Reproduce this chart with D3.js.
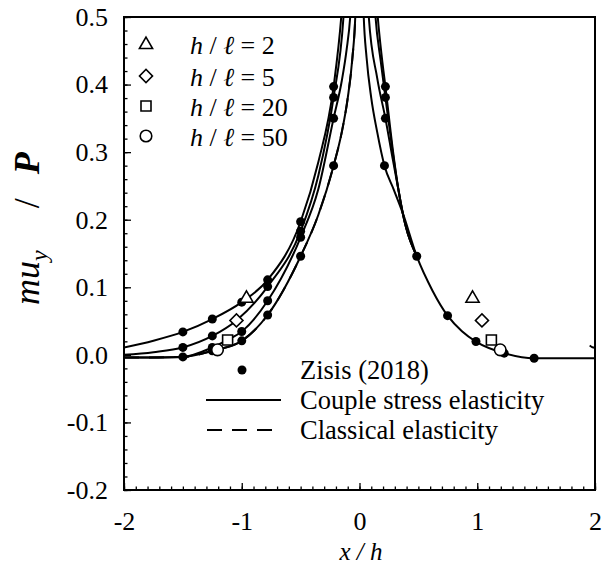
<!DOCTYPE html>
<html><head><meta charset="utf-8">
<script src="https://cdn.jsdelivr.net/npm/d3@7"></script>
<style>body{margin:0;background:#fff}</style>
</head><body>
<svg id="c" width="605" height="577"></svg>
<script>
// ---- data ----
const xTicks = [-2, -1, 0, 1, 2];
const yTicks = [-0.2, -0.1, 0.0, 0.1, 0.2, 0.3, 0.4, 0.5];
const ratios = ["2", "5", "20", "50"];
const legendLabels = ["Zisis (2018)", "Couple stress elasticity", "Classical elasticity"];

// couple stress curves, left branches (h/l = 2, 5, 20, 50)
const aLeftX = [-2, -1.75, -1.5, -1.25, -1.0, -0.78, -0.5, -0.35, -0.22, -0.155, -0.13];
const aLeftY = [0.011, 0.021, 0.034, 0.053, 0.078, 0.111, 0.197, 0.285, 0.397, 0.5, 0.56];
const bLeftX = [-2, -1.75, -1.5, -1.25, -1.045, -0.78, -0.5, -0.35, -0.22, -0.136, -0.115];
const bLeftY = [0.0, 0.004, 0.011, 0.028, 0.051, 0.101, 0.183, 0.265, 0.381, 0.5, 0.56];
const cLeftX = [-2, -1.5, -1.25, -1.12, -1.0, -0.78, -0.5, -0.35, -0.22, -0.15, -0.11, -0.079, -0.06];
const cLeftY = [-0.004, -0.003, 0.011, 0.022, 0.0345, 0.080, 0.174, 0.245, 0.350, 0.406, 0.451, 0.5, 0.56];
const dLeftX = [-2, -1.5, -1.25, -1.0, -0.78, -0.5, -0.35, -0.22, -0.15, -0.1, -0.06, -0.036, -0.025];
const dLeftY = [-0.004, -0.003, 0.006, 0.0207, 0.059, 0.146, 0.207, 0.28, 0.33, 0.38, 0.44, 0.5, 0.56];
// right branches
const aRightX = [0.13, 0.155, 0.19, 0.22, 0.282, 0.33, 0.367, 0.486];
const aRightY = [0.56, 0.5, 0.44, 0.397, 0.305, 0.245, 0.21, 0.146];
const bRightX = [0.115, 0.136, 0.18, 0.22, 0.282, 0.33, 0.367, 0.486];
const bRightY = [0.56, 0.5, 0.435, 0.381, 0.30, 0.245, 0.21, 0.146];
const cRightX = [0.06, 0.079, 0.15, 0.22, 0.282, 0.33, 0.367, 0.486];
const cRightY = [0.56, 0.5, 0.41, 0.35, 0.29, 0.245, 0.21, 0.146];
const dRightX = [0.025, 0.036, 0.06, 0.1, 0.15, 0.212, 0.29, 0.367, 0.486, 0.62, 0.748, 0.87, 0.989, 1.229, 1.483, 1.75, 2];
const dRightY = [0.56, 0.5, 0.44, 0.38, 0.33, 0.28, 0.245, 0.21, 0.146, 0.095, 0.058, 0.035, 0.0197, 0.0025, -0.005, -0.005, -0.005];
// short curve piece entering at the right border
const edgeX = [1.955, 1.975, 2.0];
const edgeY = [0.0138, 0.0115, 0.0105];

// Zisis (2018) points
const zisisX = [-1.5, -1.5, -1.5, -1.25, -1.25, -1.25, -1.25, -1.0, -1.0, -1.0, -0.78, -0.78, -0.78, -0.78,
                -0.5, -0.5, -0.5, -0.5, -0.22, -0.22, -0.22, -0.22,
                0.22, 0.22, 0.22, 0.212, 0.486, 0.748, 0.989, 1.229, 1.483];
const zisisY = [0.034, 0.011, -0.003, 0.053, 0.028, 0.011, 0.006, 0.078, 0.0345, 0.0207, 0.111, 0.101, 0.080, 0.059,
                0.197, 0.183, 0.174, 0.146, 0.397, 0.381, 0.350, 0.280,
                0.397, 0.381, 0.350, 0.280, 0.146, 0.058, 0.0197, 0.0025, -0.005];

// open identification markers (triangle, diamond, square, circle)
const markLeftX = [-0.96, -1.045, -1.12, -1.206];
const markRightX = [0.96, 1.04, 1.12, 1.195];
const markY = [0.085, 0.051, 0.022, 0.0074];

// ---- drawing ----
const L = 124, R = 595, T = 17, B = 490;
const svg = d3.select("#c");
const FONT = "Liberation Serif, Times New Roman, serif";
const FS = 26;
const x = d3.scaleLinear().domain([-2, 2]).range([L, R]);
const y = d3.scaleLinear().domain([-0.2, 0.5]).range([B, T]);

svg.append("defs").append("clipPath").attr("id", "clip")
  .append("rect").attr("x", L).attr("y", T).attr("width", R - L).attr("height", B - T);

const line = d3.line().x(d => x(d[0])).y(d => y(d[1])).curve(d3.curveMonotoneX);
const zip = (a, b) => a.map((v, i) => [v, b[i]]);

const g = svg.append("g").attr("clip-path", "url(#clip)");
const branches = [
  zip(aLeftX, aLeftY), zip(bLeftX, bLeftY), zip(cLeftX, cLeftY), zip(dLeftX, dLeftY),
  zip(aRightX, aRightY), zip(bRightX, bRightY), zip(cRightX, cRightY), zip(dRightX, dRightY),
  zip(edgeX, edgeY)
];
// classical elasticity (dashed) lies under the h/l = 50 curve
g.append("path").attr("d", line(zip(dLeftX, dLeftY))).attr("fill", "none")
  .attr("stroke", "#000").attr("stroke-width", 2).attr("stroke-dasharray", "15,10");
branches.forEach(b => {
  g.append("path").attr("d", line(b)).attr("fill", "none")
    .attr("stroke", "#000").attr("stroke-width", 2);
});

g.selectAll("circle.z").data(zip(zisisX, zisisY)).enter().append("circle")
  .attr("cx", d => x(d[0])).attr("cy", d => y(d[1])).attr("r", 4.5).attr("fill", "#000");

const symTypes = [d3.symbolTriangle, d3.symbolSquare, d3.symbolSquare, d3.symbolCircle];
const symSizes = [75, 85, 100, 105];
function sym(i) { return d3.symbol().type(symTypes[i]).size(symSizes[i])(); }
function symTransform(i, px, py) {
  if (i === 1) return `translate(${px},${py}) rotate(45)`;
  if (i === 0) return `translate(${px},${py + 1})`;
  return `translate(${px},${py})`;
}
markY.forEach((v, i) => {
  [markLeftX[i], markRightX[i]].forEach(mx => {
    svg.append("path").attr("d", sym(i))
      .attr("transform", symTransform(i, x(mx), y(v)))
      .attr("fill", "#fff").attr("stroke", "#000").attr("stroke-width", 1.6);
  });
});

svg.append("rect").attr("x", L).attr("y", T).attr("width", R - L).attr("height", B - T)
  .attr("fill", "none").attr("stroke", "#000").attr("stroke-width", 2);

const hyph = f => d => f(d).replace("\u2212", "-");
const xMinor = d3.range(-20, 21).map(i => i / 10);
const yMinor = d3.range(-10, 26).map(i => i / 50);
const ax = svg.append("g").attr("transform", `translate(0,${B})`)
  .call(d3.axisBottom(x).tickValues(xMinor).tickSize(-3.5).tickFormat(""));
const ax2 = svg.append("g").attr("transform", `translate(0,${B})`)
  .call(d3.axisBottom(x).tickValues(xTicks).tickSize(-7).tickPadding(22).tickFormat(hyph(d3.format("d"))));
const ay = svg.append("g").attr("transform", `translate(${L},0)`)
  .call(d3.axisLeft(y).tickValues(yMinor).tickSize(-3.5).tickFormat(""));
const ay2 = svg.append("g").attr("transform", `translate(${L},0)`)
  .call(d3.axisLeft(y).tickValues(yTicks).tickSize(-7).tickPadding(16).tickFormat(hyph(d3.format(".1f"))));
[ax, ax2, ay, ay2].forEach(a => {
  a.attr("font-family", FONT).attr("font-size", FS);
  a.select(".domain").remove();
  a.selectAll("line").attr("stroke", "#000").attr("stroke-width", 1.3);
  a.selectAll("text").attr("fill", "#000");
});

// axis titles
svg.append("text").attr("x", 361).attr("y", 560).attr("text-anchor", "middle")
  .attr("font-family", FONT).attr("font-size", 25).attr("font-style", "italic").text("x / h");
const yt = svg.append("text").attr("transform", "translate(39,305) rotate(-90)")
  .attr("text-anchor", "start").attr("font-family", FONT).attr("font-size", 36);
yt.append("tspan").attr("font-style", "italic").text("mu");
yt.append("tspan").attr("font-style", "italic").attr("font-size", 24).attr("dy", 8).text("y");
yt.append("tspan").attr("dy", -8).attr("dx", 42).text("/");
yt.append("tspan").attr("font-style", "italic").attr("font-weight", "bold").attr("dx", 24).text("P");

// top-left legend
const lgY = [43.7, 76, 106, 136];
ratios.forEach((r, i) => {
  svg.append("path").attr("d", sym(i)).attr("transform", symTransform(i, 146, lgY[i]))
    .attr("fill", "#fff").attr("stroke", "#000").attr("stroke-width", 1.6);
  const t = svg.append("text").attr("x", 190).attr("y", lgY[i] + 10)
    .attr("font-family", FONT).attr("font-size", FS);
  t.append("tspan").attr("font-style", "italic").text("h");
  t.append("tspan").text(" / ");
  t.append("tspan").attr("font-style", "italic").text("\u2113");
  t.append("tspan").text(" = " + r);
});

// bottom legend
const lg2Y = [370, 400, 430];
svg.append("circle").attr("cx", 242).attr("cy", lg2Y[0]).attr("r", 4.5).attr("fill", "#000");
svg.append("line").attr("x1", 206).attr("x2", 281).attr("y1", lg2Y[1]).attr("y2", lg2Y[1])
  .attr("stroke", "#000").attr("stroke-width", 2);
svg.append("line").attr("x1", 207).attr("x2", 272).attr("y1", lg2Y[2]).attr("y2", lg2Y[2])
  .attr("stroke", "#000").attr("stroke-width", 2).attr("stroke-dasharray", "15,10");
legendLabels.forEach((s, i) => {
  svg.append("text").attr("x", 300).attr("y", lg2Y[i] + 8.5).attr("font-family", FONT)
    .attr("font-size", 26.5).text(s);
});
</script>
</body></html>
